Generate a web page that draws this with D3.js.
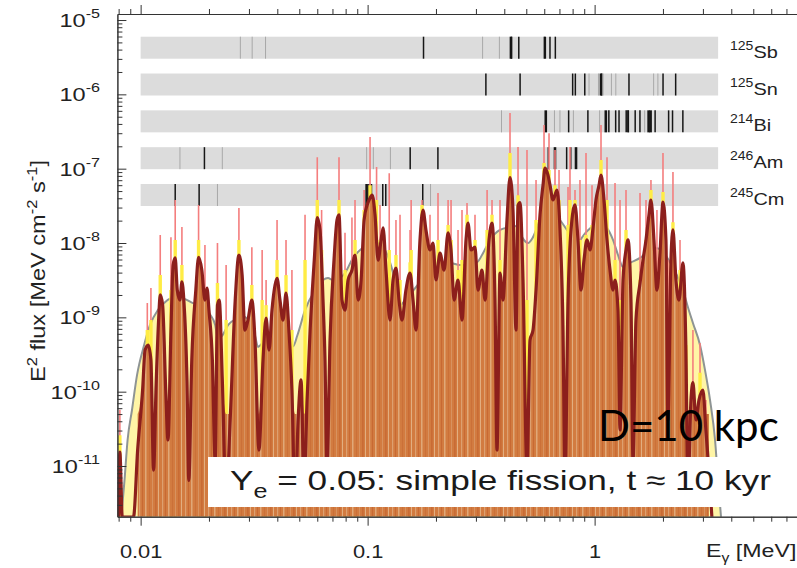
<!DOCTYPE html>
<html><head><meta charset="utf-8">
<script src="https://cdn.jsdelivr.net/npm/d3@7"></script>
<style>
body{margin:0;background:#fff;}
svg{display:block;font-family:"Liberation Sans",Arial,Helvetica,sans-serif;}
</style></head><body>
<svg id="c" width="797" height="568"></svg>
<script>
// ---------------- DATA ----------------
// smooth envelope (grey line, pale-yellow fill)
const envE = [0.00822,0.00849,0.00876,0.00916,0.00964,0.01036,0.0110,0.0119,0.0128,0.0142,
0.0154,0.0170,0.0188,0.0202,0.0213,0.0219,0.0229,0.0243,0.0264,0.0283,
0.0304,0.0319,0.0329,0.0346,0.0379,0.0411,0.0442,0.0470,0.0490,0.0530,
0.0587,0.0636,0.0669,0.0704,0.0756,0.0795,0.0862,0.0945,0.1025,0.1078,
0.1170,0.1255,0.1333,0.1389,0.1462,0.1570,0.1701,0.1883,0.2084,0.2307,
0.2553,0.2825,0.3034,0.3223,0.3461,0.3830,0.4239,0.4552,0.4790,0.5091,
0.5354,0.5747,0.6169,0.6558,0.7040,0.7557,0.8036,0.8365,0.9072,1.004,
1.056,1.134,1.205,1.268,1.334,1.432,1.585,1.754,1.882,2.001,
2.149,2.303,2.450,2.577,2.711,2.913,3.065,3.225,3.393,3.498,3.605];
const envF = [2.06e-12,6.4e-12,2.24e-11,5.67e-11,1.67e-10,4.24e-10,7.9e-10,1.25e-9,1.6e-9,1.86e-9,
1.8e-9,1.55e-9,1.37e-9,1.1e-9,7.9e-10,5.2e-10,5.7e-10,7.9e-10,9.5e-10,1.02e-9,
8.6e-10,5.7e-10,4.0e-10,4.6e-10,5.4e-10,6.2e-10,5.2e-10,4.1e-10,5.7e-10,1.25e-9,
2.33e-9,3.18e-9,3.38e-9,3.18e-9,3.38e-9,3.95e-9,6.3e-9,8.5e-9,9.9e-9,1.02e-8,
8.8e-9,5.5e-9,2.72e-9,1.46e-9,1.71e-9,2.2e-9,3.0e-9,4.33e-9,5.05e-9,5.4e-9,
5.05e-9,5.2e-9,5.5e-9,7.3e-9,1.10e-8,1.5e-8,1.64e-8,1.7e-8,1.2e-8,1.0e-8,
1.2e-8,2.04e-8,2.6e-8,2.6e-8,2.04e-8,1.5e-8,1.17e-8,1.0e-8,1.35e-8,1.75e-8,
1.86e-8,1.6e-8,1.10e-8,6.9e-9,4.75e-9,5.4e-9,6.3e-9,8.05e-9,8.5e-9,7.6e-9,
5.5e-9,3.7e-9,2.33e-9,1.37e-9,8.4e-10,4.24e-10,1.95e-10,7.7e-11,2.24e-11,6.4e-12,2.06e-12];

// detector-resolution spectrum (dark red curve)
const curveE = [0.0080,0.0081,0.0083,0.0093,0.0097,0.0102,0.01046,0.0108,0.0111,0.0114,
0.0117,0.0120,0.0122,0.0125,0.0129,0.0132,0.0136,0.0139,0.0142,0.0145,
0.0149,0.0152,0.0155,0.0160,0.0163,0.0168,0.0175,0.0180,0.0186,0.0192,
0.0196,0.0200,0.0207,0.0213,0.0218,0.0222,0.0229,0.0238,0.0248,0.0261,
0.0271,0.0280,0.0288,0.0297,0.0309,0.0319,0.0332,0.0346,0.0357,0.0368,
0.0379,0.0391,0.0399,0.0411,0.0424,0.0437,0.0450,0.0464,0.0479,0.0494,
0.0509,0.0525,0.0541,0.0558,0.0582,0.0600,0.0617,0.0636,0.0649,0.0662,
0.0683,0.0711,0.0733,0.0748,0.0771,0.0795,0.0820,0.0853,0.0880,0.0908,
0.0936,0.0965,0.0995,0.1015,0.1047,0.1078,0.1112,0.1146,0.1170,0.1205,
0.1255,0.1294,0.1333,0.1375,0.1417,0.1475,0.1538,0.1585,0.1634,0.1701,
0.1753,0.1807,0.1883,0.1941,0.2000,0.2084,0.2171,0.2262,0.2331,0.2403,
0.2502,0.2605,0.2713,0.2769,0.2855,0.2972,0.3064,0.3190,0.3290,0.3426,
0.3532,0.3641,0.3715,0.3830,0.3948,0.4111,0.4239,0.4370,0.4506,0.4598,
0.4692,0.4837,0.5036,0.5193,0.5354,0.5520,0.5747,0.5925,0.6046,0.6233,
0.6361,0.6558,0.6691,0.6828,0.7040,0.7258,0.7406,0.7636,0.7872,0.8196,
0.8448,0.8710,0.8980,0.9258,0.9544,0.9839,1.014,1.046,1.067,1.100,
1.134,1.169,1.205,1.230,1.268,1.294,1.334,1.375,1.403,1.446,
1.476,1.521,1.585,1.634,1.684,1.736,1.771,1.826,1.882,1.941,
2.001,2.062,2.104,2.169,2.214,2.282,2.353,2.450,2.525,2.577,
2.657,2.711,2.795,2.882,2.999,3.092,3.187,3.286];
const curveF = [2.06e-12,1.54e-11,2.06e-12,2.06e-12,1.64e-11,1.05e-10,3.63e-10,4.24e-10,2.67e-10,8.8e-12,
1.23e-10,9.2e-10,2.0e-9,1.46e-9,1.05e-10,2.24e-11,6.75e-10,5.05e-9,6.3e-9,2.33e-9,
1.71e-9,3.0e-9,1.71e-9,1.44e-10,6.4e-12,2.67e-10,2.33e-9,6.4e-9,4.33e-9,1.71e-9,
2.48e-9,1.25e-9,2.67e-10,1.2e-11,1.46e-9,1.71e-9,1.44e-10,3.5e-12,4.16e-11,1.71e-9,
6.9e-9,3.7e-9,6.75e-10,9.2e-10,1.71e-9,4.95e-10,1.64e-11,2.67e-10,9.8e-10,3.63e-10,
1.25e-9,2.72e-9,3.35e-9,1.71e-9,9.2e-10,2.12e-9,6.75e-10,1.05e-10,3.0e-12,4.16e-11,
1.44e-10,4.8e-12,7.7e-11,6.75e-10,5.9e-9,2.2e-8,1.5e-8,1.71e-9,2.67e-10,8.8e-12,
4.95e-10,5.9e-9,2.04e-8,2.4e-8,1.71e-9,1.25e-9,3.18e-9,4.33e-9,6.9e-9,1.71e-9,
3.18e-9,2.04e-8,3.25e-8,3.79e-8,4.4e-8,2.4e-8,5.9e-9,1.10e-8,1.6e-8,4.33e-9,
9.2e-10,3.18e-9,4.6e-9,1.71e-9,9.2e-10,2.33e-9,3.95e-9,1.71e-9,6.75e-10,1.10e-8,
2.78e-8,1.5e-8,8.05e-9,1.0e-8,3.18e-9,7.3e-9,4.33e-9,1.37e-8,8.05e-9,1.71e-9,
3.18e-9,9.2e-10,1.10e-8,1.85e-8,8.05e-9,8.8e-9,2.33e-9,4.33e-9,1.71e-9,1.10e-8,
1.85e-8,1.71e-9,1.64e-11,3.95e-9,1.71e-9,2.04e-8,7.6e-8,2.78e-8,6.75e-10,3.2e-8,
3.5e-8,3.18e-9,8.8e-12,4.95e-10,6.75e-10,2.33e-9,2.4e-8,6.0e-8,1.02e-7,8.2e-8,
6.0e-8,3.79e-8,4.4e-8,5.16e-8,1.5e-8,6.75e-10,6.4e-12,1.71e-9,1.5e-8,3.25e-8,
1.10e-8,2.33e-9,5.9e-9,1.10e-8,8.05e-9,1.6e-8,3.79e-8,6.0e-8,8.2e-8,3.79e-8,
1.10e-8,4.33e-9,2.33e-9,3.18e-9,1.25e-9,3.05e-11,3.18e-9,8.05e-9,1.10e-8,1.71e-9,
1.2e-11,9.2e-10,2.9e-9,5.9e-9,1.10e-8,2.4e-8,3.79e-8,1.10e-8,2.33e-9,7.3e-9,
3.55e-8,1.10e-8,4.16e-11,5.9e-9,1.5e-8,3.18e-9,1.71e-9,5.4e-9,3.63e-10,4.8e-12,
7.7e-11,1.32e-10,4.16e-11,7.7e-11,1.05e-10,3.05e-11,8.8e-12,2.06e-12];

// individual lines: energy, pink (fine) top, yellow (medium) top
const spikeE = [0.0081,0.0107,0.0111,0.0122,0.0136,0.0142,0.0152,0.0180,0.0192,0.0218,0.0238,
0.0271,0.0309,0.0343,0.0357,0.0399,0.0437,0.0464,0.0530,0.0600,0.0627,
0.0748,0.0795,0.0853,0.0880,0.0965,0.1025,0.1095,0.1134,0.1245,0.1333,
0.1389,0.1538,0.1555,0.1736,0.1883,0.2042,0.2262,0.2331,0.2502,0.2605,
0.2741,0.2972,0.3360,0.3532,0.3830,0.4239,0.4598,0.5036,0.5520,0.5986,
0.6297,0.6691,0.6970,0.7636,0.7790,0.8196,0.8620,0.9164,0.9740,1.067,
1.134,1.230,1.294,1.375,1.585,1.684,1.771,1.882,2.001,2.104,
2.214,2.378,2.525,2.711,2.913,3.092];
const spikeTop = [5.7e-11,1.56e-9,2.48e-9,1.28e-8,1.2e-8,3.79e-8,1.64e-8,3.25e-8,9.4e-9,1.0e-8,5.05e-9,
2.96e-8,8.8e-9,8.05e-9,3.18e-9,2.04e-8,1.10e-8,4.33e-9,2.4e-8,1.43e-7,2.78e-8,
1.43e-7,1.37e-8,2.2e-8,3.79e-8,5.16e-8,2.66e-7,1.05e-7,3.25e-8,8.7e-8,2.04e-8,
2.4e-8,1.5e-8,3.79e-8,3.79e-8,2.4e-8,4.7e-8,3.79e-8,3.79e-8,1.5e-8,2.78e-8,
3.45e-8,2.4e-8,5.16e-8,3.79e-8,3.79e-8,5.6e-7,1.96e-7,1.78e-7,7.03e-8,3.87e-7,
3.0e-7,1.78e-7,9.6e-8,5.65e-8,1.96e-7,5.16e-8,7.03e-8,1.62e-7,6.0e-8,3.87e-7,
1.43e-7,6.4e-8,3.79e-8,5.16e-8,4.7e-8,3.79e-8,7.03e-8,2.78e-8,1.62e-7,5.9e-9,
9.0e-8,1.10e-8,6.75e-10,6.75e-10,4.5e-10,7.7e-11];
const spikeMid = [2.6e-11,6.75e-10,9.2e-10,3.7e-9,2.33e-9,1.10e-8,5.05e-9,1.10e-8,2.33e-9,2.9e-9,9.2e-10,
1.10e-8,2.72e-9,1.71e-9,1.46e-9,5.9e-9,3.7e-9,6.75e-10,5.9e-9,3.79e-8,8.05e-9,
3.79e-8,4.33e-9,4.33e-9,1.10e-8,2.78e-8,6.0e-8,3.79e-8,1.10e-8,8.05e-9,6.9e-9,
3.18e-9,5.5e-9,8.05e-9,3.25e-8,8.05e-9,1.10e-8,1.75e-8,1.10e-8,4.33e-9,5.9e-9,
2.4e-8,1.10e-8,1.5e-8,2.4e-8,5.9e-9,1.62e-7,4.4e-8,1.71e-9,2.04e-8,1.19e-7,
9.6e-8,6.0e-8,3.79e-8,1.75e-8,3.79e-8,3.79e-8,1.10e-8,1.28e-8,1.75e-8,1.31e-7,
3.79e-8,5.9e-9,1.71e-9,1.5e-8,3.18e-9,1.10e-8,5.16e-8,3.18e-9,4.85e-8,1.25e-9,
1.9e-8,4.33e-9,4.24e-10,1.32e-10,1.8e-10,4.16e-11];

// isotope line bars (strength: 0 faint, 1 normal, 2 strong)
const isoMass = ["125","125","214","246","245"];
const isoSym  = ["Sb","Sn","Bi","Am","Cm"];
const sb125E = [0.0275,0.0310,0.0355,0.1763,0.3210,0.3806,0.4279,0.4301,0.4634,0.6006,0.6067,0.6359,0.6714];
const sb125S = [0,0,0,1,0,0,2,1,1,1,1,1,1];
const sn125E = [0.3319,0.4696,0.8003,0.8224,0.9050,0.9450,1.0400,1.0671,1.0735,1.0890,1.1860,1.2400,1.4171,1.8200,1.9000,2.0020,2.2755];
const sn125S = [1,1,1,1,1,0,0,2,1,0,0,0,1,0,0,1,1];
const bi214E = [0.3889,0.6093,0.6654,0.7035,0.7684,0.8062,0.9341,1.0519,1.1203,1.1553,1.2381,1.2810,1.3777,1.4015,1.4080,1.5092,1.5838,1.6614,1.7296,1.7645,1.8474,2.1185,2.2043,2.4477];
const bi214S = [0,2,0,0,1,0,1,0,2,1,1,1,1,1,1,1,1,0,2,2,1,1,1,1];
const am246E = [0.0149,0.0191,0.0229,0.0990,0.1060,0.1260,0.1540,0.2040,0.6250,0.6690,0.7530,0.7850,0.8280];
const am246S = [0,1,0,0,0,0,1,1,1,2,1,1,2];
const cm245E = [0.0142,0.0181,0.0218,0.0990,0.1013,0.1034,0.1166,0.1202,0.1749,0.1893];
const cm245S = [1,1,0,2,1,2,1,1,1,0];
const bandRange = [0.01, 3.5];

// axes
const xTickVals = [0.01, 0.1, 1];
const xTickLabels = ["0.01", "0.1", "1"];
const yTickExps = [-5, -6, -7, -8, -9, -10, -11];

// ---------------- CHART ----------------
const svg = d3.select("#c");
svg.append("rect").attr("width",797).attr("height",568).attr("fill","#fff");

const L = 117.4, B = 516.7, T = 14;
const x = d3.scaleLog().domain([0.0079, 10]).range([L, 821.6]);
const y = d3.scaleLog().domain([2.08e-12, 1.205e-5]).range([B, T]);

function stext(parent, x0, y0, sx, anchor){
  return parent.append("g").attr("transform",`translate(${x0},${y0}) scale(${sx},1)`)
    .append("text").attr("text-anchor", anchor || "start").attr("fill","#222");
}

const defs = svg.append("defs");
defs.append("clipPath").attr("id","plotclip").append("rect")
  .attr("x",L).attr("y",T).attr("width",797-L).attr("height",B-T);
const pat = defs.append("pattern").attr("id","stripes").attr("patternUnits","userSpaceOnUse")
  .attr("width",23).attr("height",10);
pat.append("rect").attr("width",23).attr("height",10).attr("fill","#D27B40");
[[1,1.2,"#DDA070"],[4,0.8,"#C6652F"],[7,1.5,"#E0A878"],[11,1,"#CB7038"],[14,0.8,"#DA9866"],[17,1.6,"#C96B34"],[20,1,"#E2AE80"]]
  .forEach(([px,w,c]) => pat.append("rect").attr("x",px).attr("width",w).attr("height",10).attr("fill",c));

// isotope bands
const isoLines = [[sb125E,sb125S],[sn125E,sn125S],[bi214E,bi214S],[am246E,am246S],[cm245E,cm245S]];
const rowY = d3.scalePoint().domain(isoSym).range([47.7, 195]);
const bandH = 22;
const bands = svg.append("g");
isoSym.forEach((sym, i) => {
  const cy = rowY(sym);
  bands.append("rect").attr("x", x(bandRange[0])).attr("y", cy - bandH/2)
    .attr("width", x(bandRange[1]) - x(bandRange[0])).attr("height", bandH).attr("fill", "#DCDCDC");
  const [es, ss] = isoLines[i];
  bands.selectAll(null).data(es).join("line")
    .attr("x1", d => x(d)).attr("x2", d => x(d))
    .attr("y1", cy - bandH/2).attr("y2", cy + bandH/2)
    .attr("stroke", (d,j) => ss[j] === 0 ? "#A8A8A8" : "#161616")
    .attr("stroke-width", (d,j) => ss[j] === 2 ? 2.6 : (ss[j] === 1 ? 1.5 : 1));
  const t = stext(svg, 730, cy + 10, 1.17, "start");
  t.append("tspan").attr("font-size", 12).attr("dy", -8).text(isoMass[i]);
  t.append("tspan").attr("font-size", 17).attr("dy", 8).text(sym);
});

// spectrum
const spec = svg.append("g").attr("clip-path","url(#plotclip)");
const envPts = envE.map((e,i) => [e, envF[i]]);
spec.append("path").datum(envPts)
  .attr("fill","#FFF5A6")
  .attr("d", d3.area().x(d => x(d[0])).y0(B).y1(d => y(d[1])).curve(d3.curveMonotoneX));
spec.append("path").datum(envPts)
  .attr("fill","none").attr("stroke","#8E9494").attr("stroke-width",2)
  .attr("d", d3.line().x(d => x(d[0])).y(d => y(d[1])).curve(d3.curveMonotoneX));

spec.selectAll(null).data(spikeE).join("line")
  .attr("x1", d => x(d)).attr("x2", d => x(d))
  .attr("y1", B).attr("y2", (d,i) => y(spikeTop[i]))
  .attr("stroke","#F47E7E").attr("stroke-width",1.6);
spec.selectAll(null).data(spikeE).join("line")
  .attr("x1", d => x(d)).attr("x2", d => x(d))
  .attr("y1", B).attr("y2", (d,i) => y(spikeMid[i]))
  .attr("stroke","#FFEC45").attr("stroke-width",3.4);

const orangeFloor = 5e-11, orangeStart = 0.0097, orangeEnd = 3.25;
const orangePts = curveE.map((e,i) => [e, Math.max(curveF[i], orangeFloor)])
  .filter(d => d[0] >= orangeStart && d[0] <= orangeEnd);
spec.append("path").datum(orangePts)
  .attr("fill","url(#stripes)")
  .attr("d", d3.area().x(d => x(d[0])).y0(B).y1(d => y(d[1])).curve(d3.curveMonotoneX));

spec.append("path").datum(curveE.map((e,i) => [e, curveF[i]]))
  .attr("fill","none").attr("stroke","#8C1F1C").attr("stroke-width",3.2)
  .attr("stroke-linejoin","round")
  .attr("d", d3.line().x(d => x(d[0])).y(d => y(d[1])).curve(d3.curveMonotoneX));

// axes
const xMinor = [];
[0.001,0.01,0.1,1].forEach(dec => { for (let k=2;k<=9;k++){ const v=dec*k; if (v>=0.0079 && v<=10) xMinor.push(v);} });
const yMinor = [];
for (let e=-12;e<=-5;e++){ for (let k=2;k<=9;k++){ const v=k*Math.pow(10,e); if (v>=2.08e-12 && v<=1.205e-5) yMinor.push(v);} }
const yMajor = yTickExps.map(e => Math.pow(10,e));

function styleAxis(g){ g.selectAll("path,line").attr("stroke","#333").attr("stroke-width",1); }

const gB = svg.append("g").attr("transform",`translate(0,${B})`);
gB.call(d3.axisBottom(x).tickValues(xTickVals).tickSize(9).tickSizeOuter(0).tickPadding(19)
  .tickFormat((d,i) => xTickLabels[i]));
gB.append("g").call(d3.axisBottom(x).tickValues(xMinor).tickSize(5).tickSizeOuter(0).tickFormat(""));
gB.selectAll("text").attr("font-size",19).attr("fill","#222")
  .attr("font-family","Liberation Sans, Arial, sans-serif").attr("transform","scale(1.15,1)");
styleAxis(gB);

const gT = svg.append("g").attr("transform",`translate(0,${T})`);
gT.call(d3.axisTop(x).tickValues(xTickVals).tickSize(9).tickSizeOuter(0).tickFormat(""));
gT.append("g").call(d3.axisTop(x).tickValues(xMinor).tickSize(5).tickSizeOuter(0).tickFormat(""));
styleAxis(gT);

const gL = svg.append("g").attr("transform",`translate(${L},0)`);
gL.call(d3.axisLeft(y).tickValues(yMajor).tickSize(-9).tickSizeOuter(0).tickFormat(""));
gL.append("g").call(d3.axisLeft(y).tickValues(yMinor).tickSize(-5).tickSizeOuter(0).tickFormat(""));
styleAxis(gL);

yTickExps.forEach(e => {
  const t = stext(svg, 100, y(Math.pow(10,e)) + 7, 1.24, "end").attr("font-size",19);
  t.append("tspan").text("10");
  t.append("tspan").attr("font-size",13).attr("dy",-9).text(String(e));
});

// axis titles
const xt = stext(svg, 706, 557, 1.22, "start").attr("font-size",19);
xt.append("tspan").text("E");
xt.append("tspan").attr("font-size",13).attr("dy",5).text("γ");
xt.append("tspan").attr("dy",-5).text(" [MeV]");

const yt = svg.append("g").attr("transform","translate(45,271) rotate(-90) scale(1.18,1)")
  .append("text").attr("text-anchor","middle").attr("font-size",20).attr("fill","#222");
yt.append("tspan").text("E");
yt.append("tspan").attr("font-size",14).attr("dy",-8).text("2");
yt.append("tspan").attr("dy",8).text(" flux [MeV cm");
yt.append("tspan").attr("font-size",14).attr("dy",-8).text("-2");
yt.append("tspan").attr("dy",8).text(" s");
yt.append("tspan").attr("font-size",14).attr("dy",-8).text("-1");
yt.append("tspan").attr("dy",8).text("]");

// annotations
svg.append("text").attr("x",598).attr("y",441).attr("font-size",42)
  .attr("font-family","Lato, 'Open Sans', sans-serif").attr("fill","#000").text("D=10 kpc");
svg.append("rect").attr("x",208).attr("y",457).attr("width",580).attr("height",50).attr("fill","#fff");
const yb = stext(svg, 230, 490, 1.257, "start").attr("font-size",28).attr("fill","#1a1a1a");
yb.append("tspan").text("Y");
yb.append("tspan").attr("font-size",20).attr("dy",8).text("e");
yb.append("tspan").attr("dy",-8).text(" = 0.05: simple fission, t ≈ 10 kyr");
</script>
</body></html>
